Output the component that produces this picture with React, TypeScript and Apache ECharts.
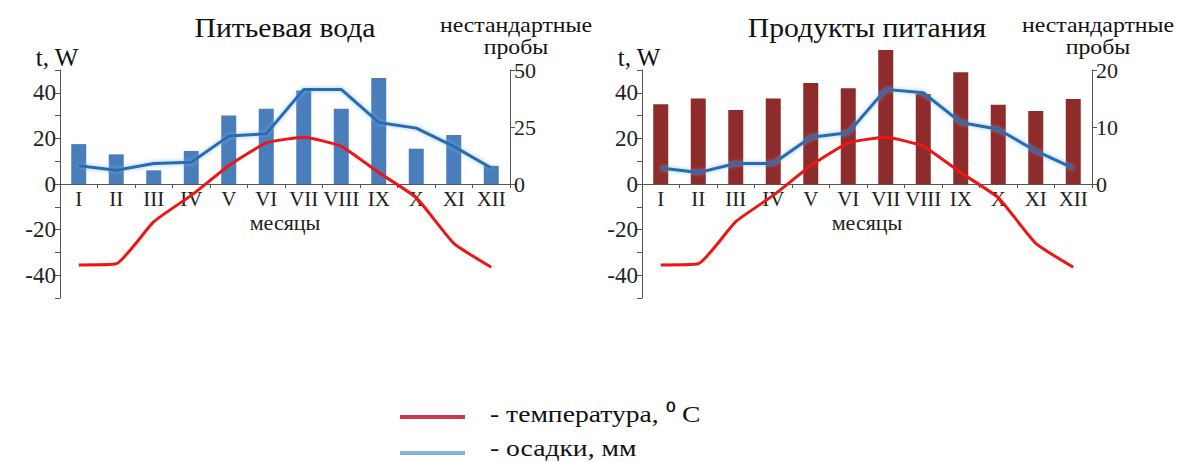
import React, { useEffect, useRef } from "react";
import * as echarts from "echarts";

const months = ["I", "II", "III", "IV", "V", "VI", "VII", "VIII", "IX", "X", "XI", "XII"];
const waterTemp = [-35.5, -35, -16.5, -5, 8, 18, 20.5, 16.5, 5, -6, -26, -36.5];
const waterPrecip = [8, 6, 9, 9.5, 21, 22, 41.5, 41.5, 27, 24.5, 16.5, 7];
const waterSamples = [17.5, 13, 6, 14.5, 30, 33, 41, 33, 46.5, 15.5, 21.5, 8];
const foodTemp = [-35.5, -35, -16.5, -5, 8, 18, 20.5, 16.5, 5, -6, -26, -36.5];
const foodPrecip = [7, 5, 9, 9, 20.5, 22.5, 41.5, 40, 27, 24, 14.5, 7];
const foodSamples = [14, 15, 13, 15, 17.7, 16.8, 23.5, 15.8, 19.6, 13.9, 12.8, 14.9];
const leftTicks = [-40, -20, 0, 20, 40];
const titles = ["Питьевая вода", "Продукты питания"];

const FONT = "'Liberation Serif', 'Times New Roman', serif";
const AXIS = "#555";
const TXT = "#222";

function txt(text: string, x: number, y: number, size: number, align: string, scaleX = 1, lineHeight?: number) {
  return {
    type: "text",
    x,
    y,
    scaleX,
    style: {
      text,
      fontSize: size,
      fontFamily: FONT,
      fill: "#111",
      textAlign: align,
      textVerticalAlign: "middle",
      lineHeight: lineHeight ?? size,
    },
  };
}

export default function App() {
  const ref = useRef<HTMLDivElement>(null);
  useEffect(() => {
    if (!ref.current) return;
    const chart = echarts.init(ref.current, null, { renderer: "svg" });
    const gridL = [60, 642];
    const W = 450;
    const TOP = 70;
    const H = 228;
    const grids: any[] = [];
    const xAxes: any[] = [];
    const yAxes: any[] = [];
    const series: any[] = [];
    const panels = [
      { temp: waterTemp, precip: waterPrecip, samples: waterSamples, smax: 50, sint: 25, color: "#4a7ebb" },
      { temp: foodTemp, precip: foodPrecip, samples: foodSamples, smax: 20, sint: 10, color: "#8e2b2b" },
    ];
    const graphics: any[] = [];
    panels.forEach((p, i) => {
      const left = gridL[i];
      grids.push({ left, width: W, top: TOP, height: H });
      grids.push({ left, width: W, top: TOP, height: H / 2 });
      const g0 = i * 2;
      const g1 = i * 2 + 1;
      xAxes.push({
        gridIndex: g0,
        type: "category",
        data: months,
        position: "bottom",
        offset: -H / 2,
        axisLine: { onZero: false, lineStyle: { color: AXIS, width: 1 } },
        axisTick: { show: true, length: 4, lineStyle: { color: AXIS } },
        axisLabel: { fontSize: 21, color: TXT, fontFamily: FONT, margin: 4, interval: 0 },
        name: "месяцы",
        nameLocation: "middle",
        nameGap: 27,
        nameTextStyle: { fontSize: 22, color: TXT, fontFamily: FONT },
      });
      xAxes.push({ gridIndex: g1, type: "category", data: months, show: false });
      yAxes.push({
        gridIndex: g0,
        type: "value",
        position: "left",
        min: -50,
        max: 50,
        interval: 10,
        splitLine: { show: false },
        axisLine: { show: true, lineStyle: { color: AXIS, width: 1 } },
        axisTick: { show: true, length: 5, lineStyle: { color: AXIS } },
        axisLabel: {
          fontSize: 23,
          color: TXT,
          fontFamily: FONT,
          margin: 4,
          formatter: (v: number) => (leftTicks.includes(v) ? String(v) : ""),
        },
      });
      yAxes.push({
        gridIndex: g1,
        type: "value",
        position: "right",
        min: 0,
        max: p.smax,
        interval: p.sint,
        splitLine: { show: false },
        axisLine: { show: true, lineStyle: { color: AXIS, width: 1 } },
        axisTick: { show: true, length: 5, lineStyle: { color: AXIS } },
        axisLabel: { fontSize: 22, color: TXT, fontFamily: FONT, margin: 4 },
      });
      series.push({
        type: "bar",
        xAxisIndex: g1,
        yAxisIndex: g1,
        data: p.samples,
        barWidth: 15,
        clip: false,
        itemStyle: { color: p.color },
        z: 1,
      });
      series.push({
        type: "line",
        xAxisIndex: g0,
        yAxisIndex: g0,
        data: p.precip,
        symbol: "none",
        lineStyle: { color: "#2a6aae", width: 3, shadowColor: "rgba(110,180,235,0.8)", shadowBlur: 4 },
        z: 3,
      });
      series.push({
        type: "line",
        xAxisIndex: g0,
        yAxisIndex: g0,
        data: p.temp,
        symbol: "none",
        smooth: 0.15,
        lineStyle: { color: "#ee1515", width: 3 },
        z: 4,
      });
      graphics.push(txt(titles[i], left + 225, 28, 27, "center", 1.1));
      graphics.push(txt("t, W", left - 3, 57, 25, "center"));
      graphics.push(txt("нестандартные\nпробы", left + W + 6, 36, 22, "center", 1.08, 22));
    });
    graphics.push(
      { type: "line", shape: { x1: 400, y1: 417, x2: 465, y2: 417 }, style: { stroke: "#cc3a4a", lineWidth: 4 } },
      { type: "line", shape: { x1: 400, y1: 453, x2: 465, y2: 453 }, style: { stroke: "#86b2d6", lineWidth: 4 } },
      txt("- температура, ⁰ С", 490, 414, 24, "left", 1.15),
      txt("- осадки, мм", 490, 448, 24, "left", 1.15)
    );
    chart.setOption({
      animation: false,
      backgroundColor: "#fff",
      grid: grids,
      xAxis: xAxes,
      yAxis: yAxes,
      series,
      graphic: graphics,
    });
    return () => chart.dispose();
  }, []);
  return <div ref={ref} style={{ position: "fixed", left: 0, top: 0, width: 1179, height: 462 }} />;
}
